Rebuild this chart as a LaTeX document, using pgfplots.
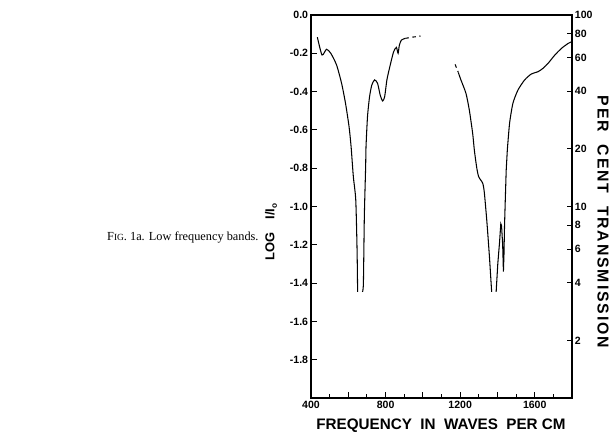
\documentclass[border=0pt]{standalone}
\usepackage{pgfplots}
\pgfplotsset{compat=1.18}
\usepackage{fontspec}
\setmainfont{Liberation Serif}
\setsansfont{Liberation Sans}
\newcommand{\lbl}{\sffamily\bfseries}

\begin{document}
\begin{tikzpicture}[x=0.03cm,y=0.03cm]
\path[use as bounding box] (0,0) rectangle (613,433);

% caption at the left of the chart
\node[anchor=base west, inner sep=0pt, font=\fontsize{10.5}{12}\selectfont] at (107,192)
  {F{\fontsize{8}{9}\selectfont IG}. 1a. Low frequency bands.};

\begin{axis}[
    at={(9.33cm,1.05cm)}, anchor=south west,
    width=7.83cm, height=11.49cm, scale only axis,
    xmin=400, xmax=1800, ymin=-2, ymax=0,
    xtick={400,600,...,1800},
    xticklabels={400,,800,,1200,,1600,,},
    minor xtick={500,700,...,1700},
    ytick={-1.8,-1.6,-1.4,-1.2,-1.0,-0.8,-0.6,-0.4,-0.2,0},
    yticklabels={-1.8,-1.6,-1.4,-1.2,-1.0,-0.8,-0.6,-0.4,-0.2,0.0},
    xtick pos=bottom, ytick pos=left,
    tick align=inside,
    major tick length=0.18cm, minor tick length=0.11cm,
    tick style={black, line width=0.8pt},
    axis line style={line width=1.4pt},
    ticklabel style={font=\lbl\fontsize{9}{10}\selectfont},
    xticklabel style={yshift=1pt},
    yticklabel style={xshift=1pt},
    clip=false,
]
% band near 650
\addplot[black, line width=0.9pt, smooth, tension=0.4] coordinates {
  (434,-0.116) (459,-0.209) (483,-0.179) (506,-0.200) (537,-0.261)
  (564,-0.357) (585,-0.461) (604,-0.583) (615,-0.688) (627,-0.844)
  (640,-0.966) (647,-1.227) (650,-1.446)
};
\addplot[black, line width=0.9pt, smooth, tension=0.4] coordinates {
  (676,-1.446) (681,-1.40) (686,-1.053) (693,-0.792) (695,-0.688)
  (703,-0.531) (714,-0.427) (726,-0.366) (741,-0.339) (757,-0.357)
  (771,-0.418) (784,-0.449) (795,-0.427) (807,-0.339) (825,-0.261)
  (843,-0.192) (858,-0.169) (867,-0.200) (874,-0.157) (885,-0.131)
  (906,-0.122)
};
\addplot[black, line width=0.9pt, dashed] coordinates {
  (906,-0.122) (950,-0.115) (988,-0.110)
};
% band near 1400
\addplot[black, line width=0.9pt, dashed] coordinates {
  (1173,-0.258) (1190,-0.300)
};
\addplot[black, line width=0.9pt, smooth, tension=0.4] coordinates {
  (1190,-0.300) (1204,-0.339) (1231,-0.409) (1249,-0.496) (1267,-0.618)
  (1276,-0.705) (1288,-0.792) (1299,-0.844) (1321,-0.879) (1330,-0.931)
  (1344,-1.088) (1357,-1.262) (1366,-1.401) (1369,-1.446)
};
\addplot[black, line width=0.9pt] coordinates {
  (1393,-1.446) (1402,-1.297) (1411,-1.19) (1418,-1.09) (1422,-1.10)
  (1428,-1.20) (1432,-1.34) (1435,-1.25) (1438,-1.10) (1442,-0.966)
  (1447,-0.809) (1453,-0.705)
};
\addplot[black, line width=0.9pt, smooth, tension=0.4] coordinates {
  (1453,-0.705) (1465,-0.566) (1483,-0.461) (1510,-0.392) (1546,-0.339)
  (1582,-0.308) (1618,-0.296) (1645,-0.278) (1672,-0.252) (1708,-0.209)
  (1744,-0.174) (1780,-0.148) (1800,-0.139)
};
\end{axis}

\begin{axis}[
    at={(9.33cm,1.05cm)}, anchor=south west,
    width=7.83cm, height=11.49cm, scale only axis,
    xmin=400, xmax=1800,
    ymode=log, ymin=1, ymax=100,
    axis x line=none, axis y line*=right,
    ytick={2,4,6,8,10,20,40,60,80,100},
    yticklabels={2,4,6,8,10,20,40,60,80,100},
    yminorticks=false,
    tick align=inside,
    major tick length=0.15cm,
    tick style={black, line width=0.8pt},
    axis line style={line width=1.4pt},
    yticklabel style={font=\lbl\fontsize{9}{10}\selectfont, anchor=west, xshift=-1pt},
]
\end{axis}

% axis titles
\node[font=\lbl\fontsize{13}{15}\selectfont, anchor=base] at (441,3)
  {FREQUENCY\ \ IN\ \ WAVES\ \ PER\ CM};
\node[font=\lbl\fontsize{11}{13}\selectfont, rotate=90] at (271,201)
  {LOG\quad I/I\raisebox{-0.4ex}{\fontsize{7}{8}\selectfont o}};
\node[font=\lbl\fontsize{13.5}{15}\selectfont\addfontfeature{LetterSpace=12}, rotate=-90] at (603,211)
  {PER\ \ CENT\ \ TRANSMISSION};
\end{tikzpicture}
\end{document}
